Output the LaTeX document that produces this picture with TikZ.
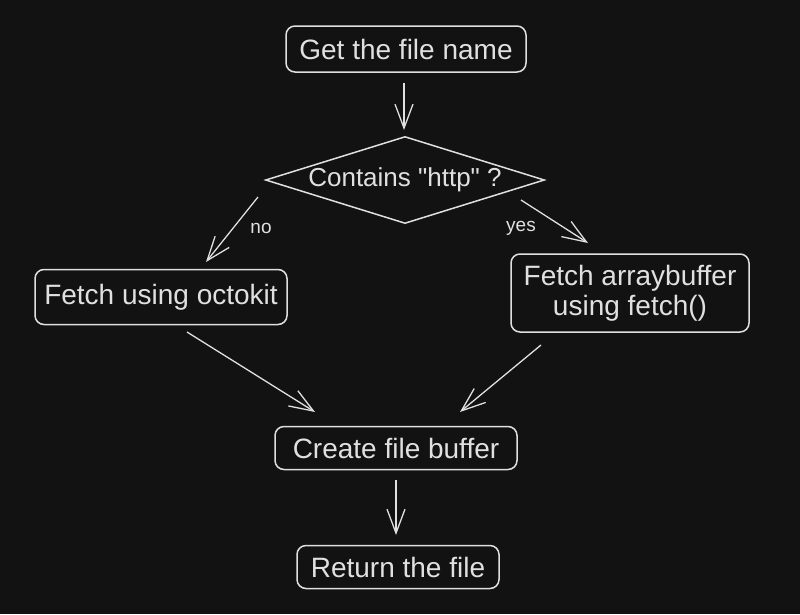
\documentclass[tikz,border=0pt]{standalone}
\usepackage{fontspec}
\setmainfont{Liberation Sans}[Ligatures=TeXOff]
\usetikzlibrary{arrows.meta,shapes.geometric}
\definecolor{bg}{HTML}{121212}
\definecolor{ink}{HTML}{E0E0E0}
\begin{document}
\begin{tikzpicture}[x=1pt,y=-1pt,
  every node/.style={text=ink,font=\fontsize{28}{30}\selectfont},
  box/.style={draw=ink,line width=1.5pt,rounded corners=9pt,inner sep=0pt,align=center},
  arr/.style={draw=ink,line width=1.3pt,-{Straight Barb[length=24pt,width=18pt,line width=1.3pt]}},
  lbl/.style={font=\fontsize{19}{22}\selectfont}]
\fill[bg] (0,0) rectangle (800,614);
\useasboundingbox (0,0) rectangle (800,614);
\node[box,minimum width=240pt,minimum height=46pt] (get) at (406,49) {Get the file name};
\node[draw=ink,line width=1.5pt,diamond,inner sep=0pt,minimum width=279pt,minimum height=87pt] (dec) at (405,180) {};
\node[font=\fontsize{26}{30}\selectfont] (dect) at (dec.center) {Contains "http" ?};
\node[box,minimum width=252pt,minimum height=55pt] (oct) at (161,297) {Fetch using octokit};
\node[box,minimum width=238pt,minimum height=78pt] (fet) at (630,293) {Fetch arraybuffer\\using fetch()};
\node[box,minimum width=242pt,minimum height=43pt] (cre) at (396,448) {Create file buffer};
\node[box,minimum width=202pt,minimum height=43pt] (ret) at (398,567) {Return the file};
\coordinate (a1s) at (404,83); \coordinate (a1e) at (404,130);
\draw[arr] (a1s) -- (a1e);
\coordinate (ns) at (258,197); \coordinate (ne) at (206,262);
\draw[arr] (ns) -- (ne);
\node[lbl] (no) at (261,228) {no};
\coordinate (ys) at (521,200); \coordinate (ye) at (588,243);
\draw[arr] (ys) -- (ye);
\node[lbl] (yes) at (521,228) {yes};
\coordinate (os) at (187,332); \coordinate (oe) at (315,412);
\draw[arr] (os) -- (oe);
\coordinate (fs) at (541,345); \coordinate (fe) at (460,412);
\draw[arr] (fs) -- (fe);
\coordinate (cs) at (396,480); \coordinate (ce) at (396,535);
\draw[arr] (cs) -- (ce);
\end{tikzpicture}
\end{document}
